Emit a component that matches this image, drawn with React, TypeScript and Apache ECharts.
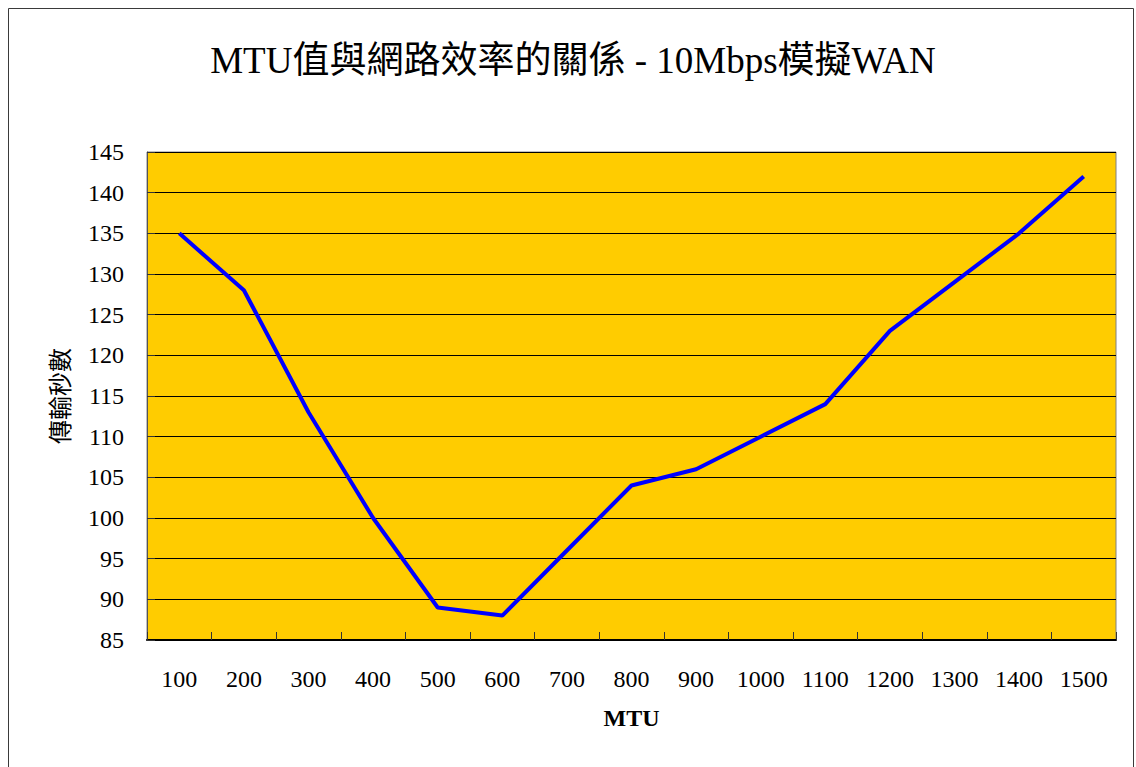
import React, { useEffect, useRef } from "react";
import * as echarts from "echarts";

// MTU sizes tested on the simulated 10 Mbps WAN link
const mtuCategories = [
  "100", "200", "300", "400", "500", "600", "700", "800",
  "900", "1000", "1100", "1200", "1300", "1400", "1500",
];

// transfer time in seconds for each MTU
const transferSeconds = [135, 128, 113, 100, 89, 88, 96, 104, 106, 110, 114, 123, 129, 135, 142];

const yMin = 85;
const yMax = 145;
const yStep = 5;

const FONT = "'Liberation Serif', 'Noto Sans CJK TC', serif";

export default function App() {
  const ref = useRef<HTMLDivElement>(null);

  useEffect(() => {
    if (!ref.current) return;
    const chart = echarts.init(ref.current, null, { renderer: "svg" });
    chart.setOption({
      animation: false,
      backgroundColor: "#ffffff",
      title: {
        text: "MTU值與網路效率的關係 - 10Mbps模擬WAN",
        left: 573,
        textAlign: "center",
        top: 42,
        padding: 0,
        textStyle: {
          fontFamily: FONT,
          fontSize: 37,
          fontWeight: "normal",
          color: "#000",
        },
      },
      graphic: [
        {
          type: "rect",
          shape: { x: 8.5, y: 8.5, width: 1125, height: 800 },
          style: { fill: "none", stroke: "#3a3a3a", lineWidth: 1 },
          silent: true,
        },
      ],
      grid: {
        left: 147,
        right: 20,
        top: 152,
        bottom: 127,
        containLabel: false,
        show: true,
        backgroundColor: "#FFCC00",
        borderColor: "#808080",
        borderWidth: 1,
      },
      xAxis: {
        type: "category",
        data: mtuCategories,
        boundaryGap: true,
        name: "MTU",
        nameLocation: "middle",
        nameGap: 66,
        nameTextStyle: {
          fontFamily: FONT,
          fontSize: 24,
          fontWeight: "bold",
          color: "#000",
        },
        axisLine: { show: true, lineStyle: { color: "#000", width: 2 } },
        axisTick: {
          show: true,
          inside: true,
          length: 8,
          lineStyle: { color: "#333", width: 1 },
        },
        axisLabel: {
          margin: 27,
          fontFamily: FONT,
          fontSize: 24,
          color: "#000",
        },
        splitLine: { show: false },
      },
      yAxis: {
        type: "value",
        min: yMin,
        max: yMax,
        interval: yStep,
        name: "傳輸秒數",
        nameLocation: "middle",
        nameRotate: 90,
        nameGap: 74,
        nameTextStyle: {
          fontFamily: FONT,
          fontSize: 24,
          color: "#000",
        },
        axisLine: { show: true, lineStyle: { color: "#555", width: 1 } },
        axisTick: {
          show: true,
          inside: true,
          length: 8,
          lineStyle: { color: "#333", width: 1 },
        },
        axisLabel: {
          margin: 23,
          fontFamily: FONT,
          fontSize: 24,
          color: "#000",
        },
        splitLine: { show: true, lineStyle: { color: "#000", width: 1 } },
      },
      series: [
        {
          type: "line",
          data: transferSeconds,
          symbol: "none",
          lineStyle: { color: "#0000FF", width: 4 },
          itemStyle: { color: "#0000FF" },
        },
      ],
    });
    return () => chart.dispose();
  }, []);

  return (
    <div
      ref={ref}
      style={{ position: "fixed", left: 0, top: 0, width: 1136, height: 767 }}
    />
  );
}
